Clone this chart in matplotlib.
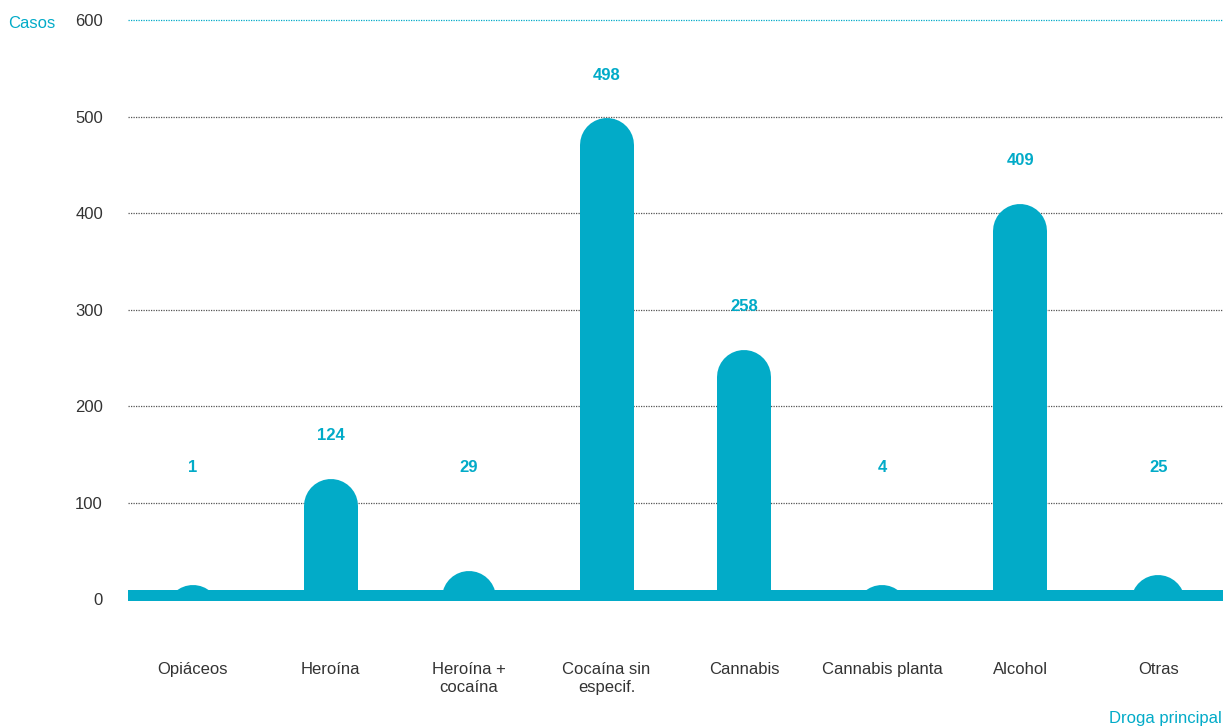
import matplotlib
matplotlib.use("Agg")
import matplotlib.pyplot as plt
import numpy as np

categories = ["Opiáceos", "Heroína", "Heroína +\ncocaína", "Cocaína sin\nespecif.",
              "Cannabis", "Cannabis planta", "Alcohol", "Otras"]
values = [1, 124, 29, 498, 258, 4, 409, 25]
yticks = [0, 100, 200, 300, 400, 500, 600]

CYAN = "#02ABC8"
GRAY = "#333333"
plt.rcParams['font.family'] = ['Liberation Sans', 'DejaVu Sans']

W, H = 1225, 727
fig = plt.figure(figsize=(W / 100, H / 100), dpi=100)
left, right = 128 / W, 1223 / W
bottom, top = (H - 600.5) / H, (H - 20) / H
ax = fig.add_axes([left, bottom, right - left, top - bottom])

ymin, ymax = -1.5, 600
ax.set_ylim(ymin, ymax)
ax.set_xlim(-0.47, 7.47)

# gridlines
for t in yticks[1:]:
    ax.axhline(t, color=CYAN if t == 600 else "#555555", lw=0.9,
               ls=(0, (1, 1)), zorder=1, clip_on=False)

# bar geometry: width in pixels -> points
bar_px = 54
lw_pt = bar_px * 72 / 100
px_per_unit = (600.5 - 20) / (ymax - ymin)
r_data = (bar_px / 2) / px_per_unit
min_dome = 15  # smallest visible dome height (data units), as in the reference

x = np.arange(len(categories))
for xi, v in zip(x, values):
    ytop = max(v, min_dome)
    ax.plot([xi, xi], [-300, ytop - r_data], color=CYAN, lw=lw_pt,
            solid_capstyle="round", zorder=3)
    ly = max(v + 45, 136)
    ax.text(xi, ly, str(v), ha="center", va="center", color=CYAN,
            fontsize=12, fontweight="bold", zorder=5)

# baseline band
ax.axhspan(ymin, 9.5, color=CYAN, zorder=4, lw=0)

for s in ax.spines.values():
    s.set_visible(False)
ax.set_yticks(yticks)
ax.set_yticklabels([str(t) for t in yticks])
ax.tick_params(axis="y", length=0, pad=18, labelsize=12, labelcolor=GRAY)
ax.set_xticks(x)
ax.set_xticklabels(categories, linespacing=1.25)
ax.tick_params(axis="x", length=0, pad=44, labelsize=12, labelcolor=GRAY)
for lab in ax.get_xticklabels():
    lab.set_verticalalignment("top")

fig.text(8 / W, 1 - 23 / H, "Casos", color=CYAN, fontsize=12, ha="left", va="center")
fig.text(1222 / W, 1 - 719 / H, "Droga principal", color=CYAN, fontsize=12,
         ha="right", va="center")

fig.savefig("out.png", dpi=100)
